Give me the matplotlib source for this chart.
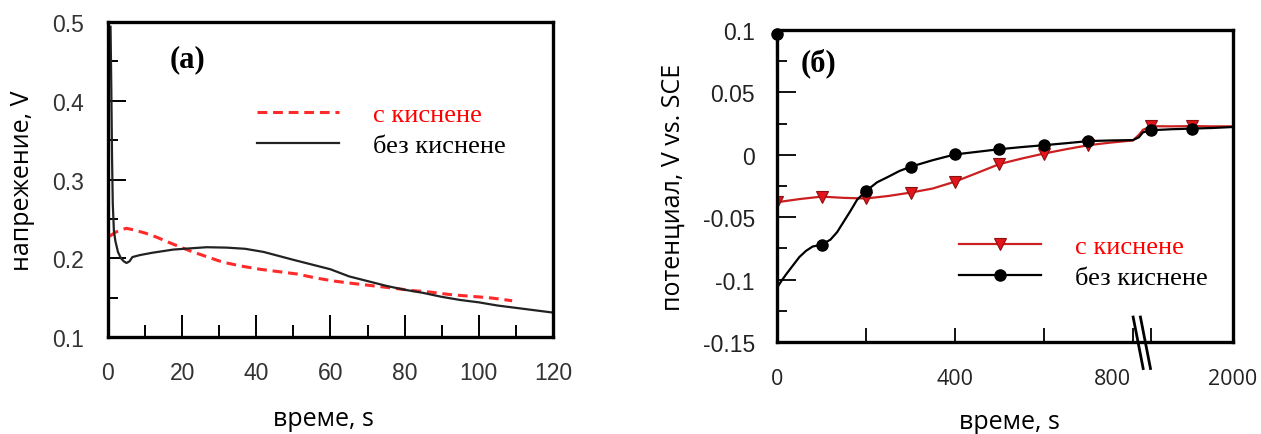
import numpy as np
import matplotlib
matplotlib.use("Agg")
import matplotlib.pyplot as plt

# ---- panel (a): voltage vs time ----
t_with_o2 = [0.5, 2, 3.5, 5, 7, 10, 13, 17, 22, 26, 31, 36, 41, 46, 51, 56, 61, 66,
             71.5, 77, 82, 87, 92, 97, 102.5, 106, 109]
v_with_o2 = [0.228, 0.233, 0.236, 0.238, 0.236, 0.232, 0.227, 0.219, 0.2096, 0.203,
             0.195, 0.19, 0.186, 0.183, 0.18, 0.175, 0.171, 0.168, 0.165, 0.162,
             0.159, 0.157, 0.154, 0.152, 0.15, 0.148, 0.146]
t_no_o2 = [0.7, 0.9, 1.1, 1.3, 1.6, 2.0, 2.7, 3.5, 4.3, 5.0, 5.8, 6.6, 8.6, 12, 17.6,
           22, 26.6, 32, 37, 42, 46, 50, 55, 60, 65, 70, 75, 80, 85, 90, 95, 100,
           105, 110, 115, 120]
v_no_o2 = [0.494, 0.42, 0.33, 0.27, 0.235, 0.222, 0.208, 0.2, 0.196, 0.194, 0.196,
           0.2015, 0.204, 0.207, 0.211, 0.2125, 0.214, 0.2135, 0.212, 0.208, 0.203,
           0.198, 0.192, 0.186, 0.177, 0.171, 0.165, 0.16, 0.156, 0.151, 0.147,
           0.144, 0.14, 0.137, 0.134, 0.131]

# ---- panel (б): potential vs SCE, broken time axis ----
tb_with_o2 = [0, 50, 100, 150, 200, 250, 300, 350, 400, 450, 500, 550, 600, 650, 700,
              750, 800, 850, 900, 1000, 1250, 1500, 1750, 2000]
pb_with_o2 = [-0.038, -0.0355, -0.0335, -0.0345, -0.035, -0.033, -0.0303, -0.027,
              -0.0215, -0.0145, -0.0074, -0.003, 0.001, 0.0045, 0.0077, 0.0098,
              0.0115, 0.016, 0.020, 0.0229, 0.0228, 0.023, 0.0228, 0.0228]
tb_no_o2 = [0, 1, 10, 20, 35, 50, 65, 80, 100, 120, 135, 150, 165, 180, 200, 225, 250,
            275, 300, 350, 400, 450, 500, 550, 600, 650, 700, 750, 800, 850, 900,
            1000, 1250, 1500, 1750, 2000]
pb_no_o2 = [0.097, -0.106, -0.101, -0.096, -0.089, -0.082, -0.077, -0.0735, -0.072,
            -0.068, -0.062, -0.0535, -0.045, -0.036, -0.029, -0.022, -0.0176, -0.013,
            -0.0096, -0.0043, 0.0003, 0.0024, 0.0045, 0.0062, 0.0077, 0.0093, 0.011,
            0.0115, 0.0118, 0.014, 0.018, 0.0197, 0.0205, 0.021, 0.0215, 0.0223]
marker_times = [0, 100, 200, 300, 400, 500, 600, 700, 1000, 1500]

labels = ["с киснене", "без киснене"]

TICK_FONT = "Liberation Sans"
LABEL_FONT = "Open Sans"
SERIF = "Liberation Serif"

# axis break: linear up to BREAK, compressed afterwards
BREAK = 805.0
SQUEEZE = 0.184


def fwd(t):
    t = np.asarray(t, dtype=float)
    return np.where(t <= BREAK, t, BREAK + (t - BREAK) * SQUEEZE)


def inv(u):
    u = np.asarray(u, dtype=float)
    return np.where(u <= BREAK, u, BREAK + (u - BREAK) / SQUEEZE)


fig = plt.figure(figsize=(12.61, 4.35), dpi=100)
ax1 = fig.add_axes([0.0856, 0.2230, 0.3529, 0.7241])
ax2 = fig.add_axes([0.6162, 0.2115, 0.3616, 0.7172])

# ---------------- panel (a) ----------------
ax1.plot(t_with_o2, v_with_o2, color="#ff2a2a", lw=2.2, dashes=(3.2, 1.9), label=labels[0])
ax1.plot(t_no_o2, v_no_o2, color="#222222", lw=1.6, label=labels[1])
ax1.set_xlim(0, 120)
ax1.set_ylim(0.1, 0.5)
ax1.set_xticks(np.arange(0, 121, 20))
ax1.set_xticks(np.arange(10, 120, 20), minor=True)
ax1.set_yticks([0.1, 0.2, 0.3, 0.4, 0.5])
ax1.set_yticklabels(["0.1", "0.2", "0.3", "0.4", "0.5"])
ax1.set_yticks([0.15, 0.25, 0.35, 0.45], minor=True)
ax1.tick_params(axis="x", which="major", direction="in", length=16, width=1.4, pad=17)
ax1.tick_params(axis="x", which="minor", direction="in", length=8.5, width=1.4)
ax1.tick_params(axis="y", which="major", direction="in", length=13, width=1.4, pad=17)
ax1.tick_params(axis="y", which="minor", direction="in", length=7, width=1.4)
for lab in ax1.get_xticklabels() + ax1.get_yticklabels():
    lab.set_fontfamily(TICK_FONT)
    lab.set_fontsize(16.5)
    lab.set_color("#333333")
for sp in ax1.spines.values():
    sp.set_linewidth(2.4)
ax1.set_xlabel("време, s", fontfamily=LABEL_FONT, fontsize=18)
ax1.set_ylabel("напрежение, V", fontfamily=LABEL_FONT, fontsize=18)
ax1.xaxis.set_label_coords(0.485, -0.22)
ax1.yaxis.set_label_coords(-0.165, 0.5)
ax1.text(0.179, 0.882, "(a)", transform=ax1.transAxes, ha="center", va="center",
         fontfamily=SERIF, fontweight="bold", fontsize=22)
ax1.legend(loc="upper left", bbox_to_anchor=(0.335, 0.745), frameon=False,
           prop={"family": SERIF, "size": 19}, labelcolor=["red", "black"],
           handlelength=3.1, handletextpad=1.3, labelspacing=0.3,
           borderpad=0, borderaxespad=0)

# ---------------- panel (б) ----------------
ax2.set_xscale("function", functions=(fwd, inv))
ax2.plot(tb_with_o2, pb_with_o2, color="#cc1f1f", lw=1.6, marker="v", ms=8.5,
         mfc="#e3141c", mec="#8a1010", mew=0.8,
         markevery=[tb_with_o2.index(t) for t in marker_times], label=labels[0])
ax2.plot(tb_no_o2, pb_no_o2, color="black", lw=1.6, marker="o", ms=8,
         markevery=[tb_no_o2.index(t) for t in marker_times], clip_on=False,
         label=labels[1], zorder=3)
ax2.set_xlim(0, 2000)
ax2.set_ylim(-0.15, 0.1)
ax2.xaxis.remove_overlapping_locs = False
ax2.set_xticks([0, 400, 755, 2000])
ax2.set_xticklabels(["0", "400", "800", "2000"])
ax2.set_xticks([200, 400, 600, 800, 1000], minor=True)
ax2.set_yticks([-0.15, -0.1, -0.05, 0, 0.05, 0.1])
ax2.set_yticklabels(["-0.15", "-0.1", "-0.05", "0", "0.05", "0.1"])
ax2.set_yticks([-0.125, -0.075, -0.025, 0.025, 0.075], minor=True)
ax2.tick_params(axis="x", which="major", direction="in", length=0, pad=19)
ax2.tick_params(axis="x", which="minor", direction="in", length=10, width=1.3)
ax2.tick_params(axis="y", which="major", direction="in", length=13.5, width=1.3, pad=16)
ax2.tick_params(axis="y", which="minor", direction="in", length=7, width=1.3)
for lab in ax2.get_xticklabels():
    lab.set_fontfamily(LABEL_FONT)
    lab.set_fontsize(15.5)
    lab.set_color("#222222")
for lab in ax2.get_yticklabels():
    lab.set_fontfamily(TICK_FONT)
    lab.set_fontsize(16.5)
    lab.set_color("#222222")
for sp in ax2.spines.values():
    sp.set_linewidth(2.4)
ax2.set_xlabel("време, s", fontfamily=LABEL_FONT, fontsize=18)
ax2.set_ylabel("потенциал, V vs. SCE", fontfamily=LABEL_FONT, fontsize=18)
ax2.xaxis.set_label_coords(0.509, -0.215)
ax2.yaxis.set_label_coords(-0.2, 0.5)
ax2.text(0.091, 0.897, "(б)", transform=ax2.transAxes, ha="center", va="center",
         fontfamily=SERIF, fontweight="bold", fontsize=22)
ax2.legend(loc="upper left", bbox_to_anchor=(0.399, 0.345), frameon=False,
           prop={"family": SERIF, "size": 19}, labelcolor=["red", "black"],
           handlelength=3.1, handletextpad=1.3, labelspacing=0.3,
           borderpad=0, borderaxespad=0)

# break marks on the time axis
for dx in (0.0, 0.016):
    ax2.plot([0.781 + dx, 0.803 + dx], [0.08, -0.085], color="black", lw=2,
             transform=ax2.transAxes, clip_on=False)

fig.savefig("out.png", dpi=100)
